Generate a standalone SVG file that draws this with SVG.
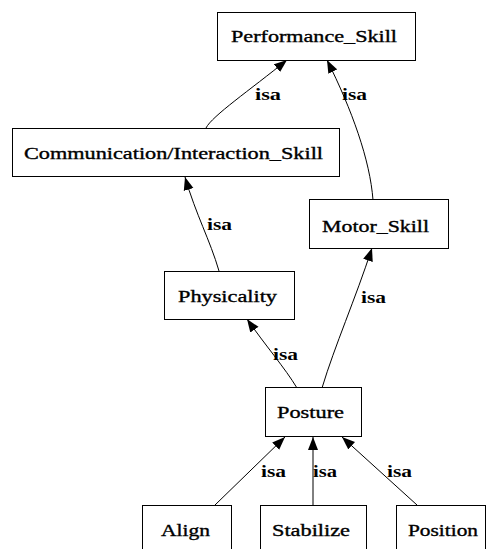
<svg xmlns="http://www.w3.org/2000/svg" width="486" height="549" viewBox="0 0 486 549">
<style>
.box{fill:#fff;stroke:#000;stroke-width:1}
.t{font-family:"Liberation Serif","Times New Roman",serif;font-size:17px;fill:#000;stroke:#000;stroke-width:0.35}
.lbl{font-family:"Liberation Serif","Times New Roman",serif;font-size:17px;font-weight:bold;fill:#000}
.e{fill:none;stroke:#000;stroke-width:1;marker-end:url(#ah)}
</style>
<defs>
<marker id="ah" markerUnits="userSpaceOnUse" markerWidth="14" markerHeight="11" refX="13" refY="5.5" orient="auto">
<path d="M0,0.5 L13,5.5 L0,10.5 z" fill="#000"/>
</marker>
</defs>
<rect width="486" height="549" fill="#fff"/>
<g id="edges">
<path class="e" d="M206,128 C212,116 250,90 287,60"/>
<path class="e" d="M373,200 C370,160 352,110 327,60"/>
<path class="e" d="M219,271 C210,240 196,215 185,177"/>
<path class="e" d="M297,388 C285,368 265,345 247,319"/>
<path class="e" d="M322,388 C335,345 355,300 372,248"/>
<path class="e" d="M215,505 L285,437"/>
<path class="e" d="M313,505 L313,437"/>
<path class="e" d="M417,505 L342,437"/>
<text class="lbl" x="255" y="100" textLength="26" lengthAdjust="spacingAndGlyphs">isa</text>
<text class="lbl" x="342" y="100" textLength="25" lengthAdjust="spacingAndGlyphs">isa</text>
<text class="lbl" x="207" y="230" textLength="25" lengthAdjust="spacingAndGlyphs">isa</text>
<text class="lbl" x="273" y="360" textLength="25" lengthAdjust="spacingAndGlyphs">isa</text>
<text class="lbl" x="361" y="303" textLength="25" lengthAdjust="spacingAndGlyphs">isa</text>
<text class="lbl" x="261" y="477" textLength="25" lengthAdjust="spacingAndGlyphs">isa</text>
<text class="lbl" x="313" y="477" textLength="24" lengthAdjust="spacingAndGlyphs">isa</text>
<text class="lbl" x="387" y="477" textLength="25" lengthAdjust="spacingAndGlyphs">isa</text>
</g>
<g id="Performance_Skill"><rect class="box" x="217.5" y="12.5" width="198" height="48"/><text class="t" x="231" y="42" textLength="166" lengthAdjust="spacingAndGlyphs">Performance_Skill</text></g>
<g id="Communication_Interaction_Skill"><rect class="box" x="12.5" y="128.5" width="327" height="48"/><text class="t" x="24" y="159" textLength="299" lengthAdjust="spacingAndGlyphs">Communication/Interaction_Skill</text></g>
<g id="Motor_Skill"><rect class="box" x="309.5" y="199.5" width="139" height="49"/><text class="t" x="322" y="232" textLength="107" lengthAdjust="spacingAndGlyphs">Motor_Skill</text></g>
<g id="Physicality"><rect class="box" x="164.5" y="271.5" width="130" height="48"/><text class="t" x="178" y="302" textLength="99" lengthAdjust="spacingAndGlyphs">Physicality</text></g>
<g id="Posture"><rect class="box" x="265.5" y="387.5" width="96" height="49"/><text class="t" x="277" y="418" textLength="67" lengthAdjust="spacingAndGlyphs">Posture</text></g>
<g id="Align"><rect class="box" x="142.5" y="505.5" width="89" height="48"/><text class="t" x="161" y="536" textLength="49" lengthAdjust="spacingAndGlyphs">Align</text></g>
<g id="Stabilize"><rect class="box" x="260.5" y="505.5" width="106" height="48"/><text class="t" x="272" y="536" textLength="78" lengthAdjust="spacingAndGlyphs">Stabilize</text></g>
<g id="Position"><rect class="box" x="396.5" y="505.5" width="89" height="48"/><text class="t" x="408" y="536" textLength="70" lengthAdjust="spacingAndGlyphs">Position</text></g>
</svg>
